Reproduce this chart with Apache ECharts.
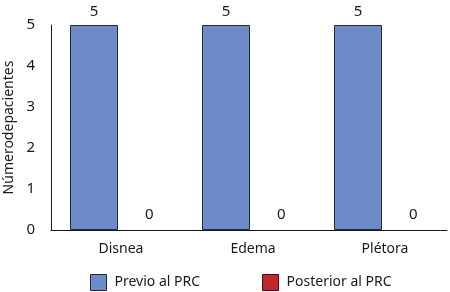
<!DOCTYPE html>
<html>
<head>
<meta charset="utf-8">
<script src="https://cdn.jsdelivr.net/npm/echarts@6/dist/echarts.min.js"></script>
<style>
  html, body { margin: 0; padding: 0; background: #fff; }
  #chart { width: 450px; height: 292px; }
</style>
</head>
<body>
<div id="chart"></div>
<script>
const categories = ['Disnea', 'Edema', 'Plétora'];
const previoValues = [5, 5, 5];
const posteriorValues = [0, 0, 0];
const seriesNames = ['Previo al PRC', 'Posterior al PRC'];

const chart = echarts.init(document.getElementById('chart'));
const font = 'Noto Sans';
const ink = '#1a1a1a';

const option = {
  animation: false,
  textStyle: { fontFamily: font, color: ink },
  grid: { left: 51, right: 3, top: 25, bottom: 62, outerBoundsMode: 'none', containLabel: false },
  legend: {
    data: [
      { name: seriesNames[0], itemStyle: { color: '#6d8cc7', borderColor: '#1f2a44', borderWidth: 1 } },
      { name: seriesNames[1], itemStyle: { color: '#c1272d', borderColor: '#3a1010', borderWidth: 1 } }
    ],
    top: 269,
    left: 85,
    itemWidth: 16,
    itemHeight: 16,
    itemGap: 62,
    icon: 'rect',
    textStyle: { fontFamily: font, fontSize: 14, color: ink, padding: [0, 0, 0, 3] }
  },
  xAxis: {
    type: 'category',
    data: categories,
    axisLine: { lineStyle: { color: ink, width: 1 } },
    axisTick: { show: false },
    axisLabel: { fontFamily: font, fontSize: 14, color: ink, margin: 12, padding: [0, 0, 0, 8] },
    splitLine: { show: false }
  },
  yAxis: {
    type: 'value',
    min: 0,
    max: 5,
    interval: 1,
    name: 'Númerodepacientes',
    nameLocation: 'middle',
    nameGap: 31,
    nameTextStyle: { fontFamily: font, fontSize: 14, color: ink },
    axisLine: { show: true, lineStyle: { color: ink, width: 1 } },
    axisTick: { show: false },
    axisLabel: { fontFamily: font, fontSize: 15, color: ink, margin: 16 },
    splitLine: { show: false }
  },
  series: [
    {
      // empty spacer so the bar pair sits off-centre like the original
      name: 'spacer',
      type: 'bar',
      data: [],
      barWidth: 8,
      barGap: '15%'
    },
    {
      name: seriesNames[0],
      type: 'bar',
      data: previoValues,
      barWidth: 48,
      itemStyle: { color: '#6d8cc7', borderColor: '#1f2a44', borderWidth: 1 },
      label: { show: true, position: 'top', distance: 6, fontFamily: font, fontSize: 15, color: ink }
    },
    {
      name: seriesNames[1],
      type: 'bar',
      data: posteriorValues,
      barWidth: 48,
      itemStyle: { color: '#c1272d', borderWidth: 0 },
      label: { show: true, position: 'top', distance: 8, fontFamily: font, fontSize: 15, color: ink }
    }
  ]
};

chart.setOption(option);
</script>
</body>
</html>
